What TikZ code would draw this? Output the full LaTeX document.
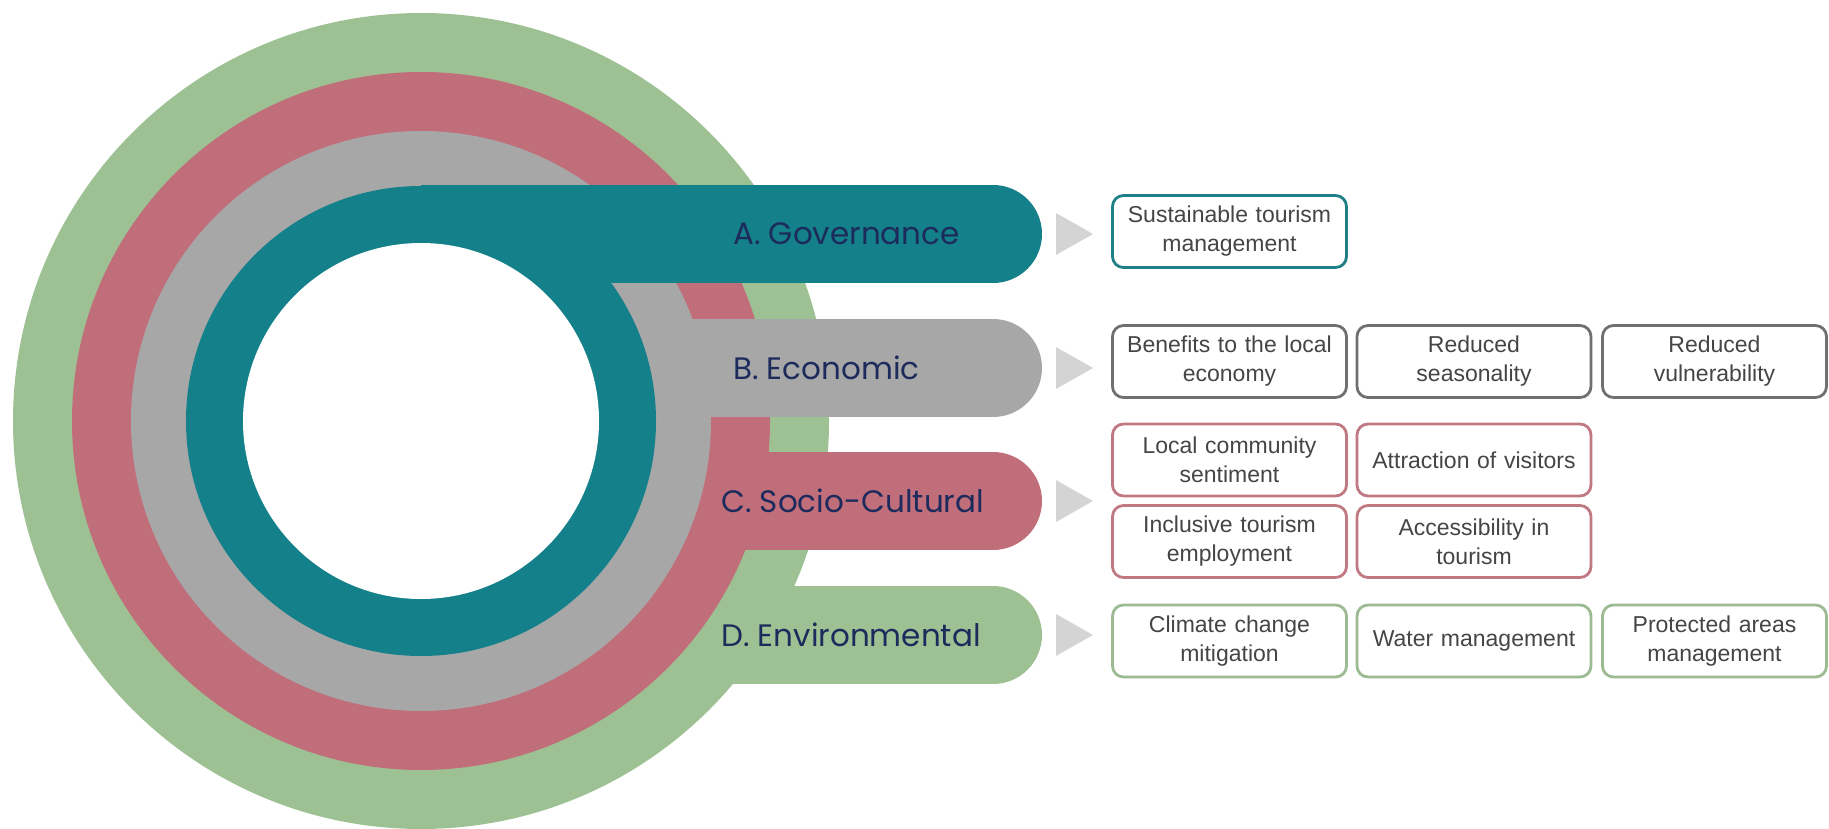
\documentclass[tikz,border=0pt]{standalone}
\usepackage{fontspec}
\setmainfont{Liberation Sans}
\newfontfamily\popfont{Poppins}
\definecolor{cteal}{HTML}{13808A}
\definecolor{cgray}{HTML}{A7A7A7}
\definecolor{cred}{HTML}{C06E7A}
\definecolor{cgreen}{HTML}{9EC194}
\definecolor{bteal}{HTML}{1F7F86}
\definecolor{bgray}{HTML}{707070}
\definecolor{bred}{HTML}{C07883}
\definecolor{bgreen}{HTML}{9DBB92}
\definecolor{boxtext}{HTML}{454545}
\definecolor{labnavy}{HTML}{1D2B5C}
\definecolor{trigray}{HTML}{D4D4D4}
\begin{document}
\begin{tikzpicture}[x=1pt,y=-1pt,
  box/.style={draw, line width=2.8pt, rounded corners=11pt, fill=white,
    minimum height=72pt, inner sep=2pt, align=center,
    font=\fontsize{23}{29}\selectfont, text=boxtext},
  wbox/.style={box, minimum width=234pt, text width=230pt},
  nbox/.style={box, minimum width=224pt, text width=220pt},
  lab/.style={anchor=west, inner sep=0pt, font=\popfont\fontsize{31}{36}\selectfont, text=labnavy},
  tri/.style={fill=trigray}]
\useasboundingbox (0,0) rectangle (1829,829);
\coordinate (C) at (421,421);
% green ring and bar
\fill[cgreen] (C) circle[radius=408pt];
\fill[cgreen] (421,586) rectangle (993,684);
\fill[cgreen] (993,635) circle[radius=49pt];
% red ring and bar
\fill[cred] (C) circle[radius=349pt];
\fill[cred] (421,452) rectangle (993,550);
\fill[cred] (993,501) circle[radius=49pt];
% gray ring and bar
\fill[cgray] (C) circle[radius=290pt];
\fill[cgray] (421,319) rectangle (993,417);
\fill[cgray] (993,368) circle[radius=49pt];
% teal ring and bar
\fill[cteal] (C) circle[radius=235pt];
\fill[cteal] (421,185) rectangle (993,283);
\fill[cteal] (993,234) circle[radius=49pt];
% inner white
\fill[white] (C) circle[radius=178pt];
% labels
\node[lab] (la) at (733,234) {A. Governance};
\node[lab] (lb) at (733,368) {B. Economic};
\node[lab] (lc) at (721,501) {C. Socio-Cultural};
\node[lab] (ld) at (721,635) {D. Environmental};
% triangles
\foreach \y in {234,368,501,635}{
  \fill[tri] (1056,\y-21) -- (1093,\y) -- (1056,\y+21) -- cycle;
}
% boxes
\node[wbox, draw=bteal] (a1) at (1229.5,231.5) {Sustainable tourism\\management};
\node[wbox, draw=bgray] (b1) at (1229.5,361.5) {Benefits to the local\\economy};
\node[wbox, draw=bgray] (b2) at (1474,361.5) {Reduced\\seasonality};
\node[nbox, draw=bgray] (b3) at (1714.5,361.5) {Reduced\\vulnerability};
\node[wbox, draw=bred] (c1) at (1229.5,460) {Local community\\sentiment};
\node[wbox, draw=bred] (c2) at (1474,460) {Attraction of visitors};
\node[wbox, draw=bred] (c3) at (1229.5,541.5) {Inclusive tourism\\employment};
\node[wbox, draw=bred] (c4) at (1474,541.5) {Accessibility in\\tourism};
\node[wbox, draw=bgreen] (d1) at (1229.5,641) {Climate change\\mitigation};
\node[wbox, draw=bgreen] (d2) at (1474,641) {Water management};
\node[nbox, draw=bgreen] (d3) at (1714.5,641) {Protected areas\\management};
\end{tikzpicture}
\end{document}
